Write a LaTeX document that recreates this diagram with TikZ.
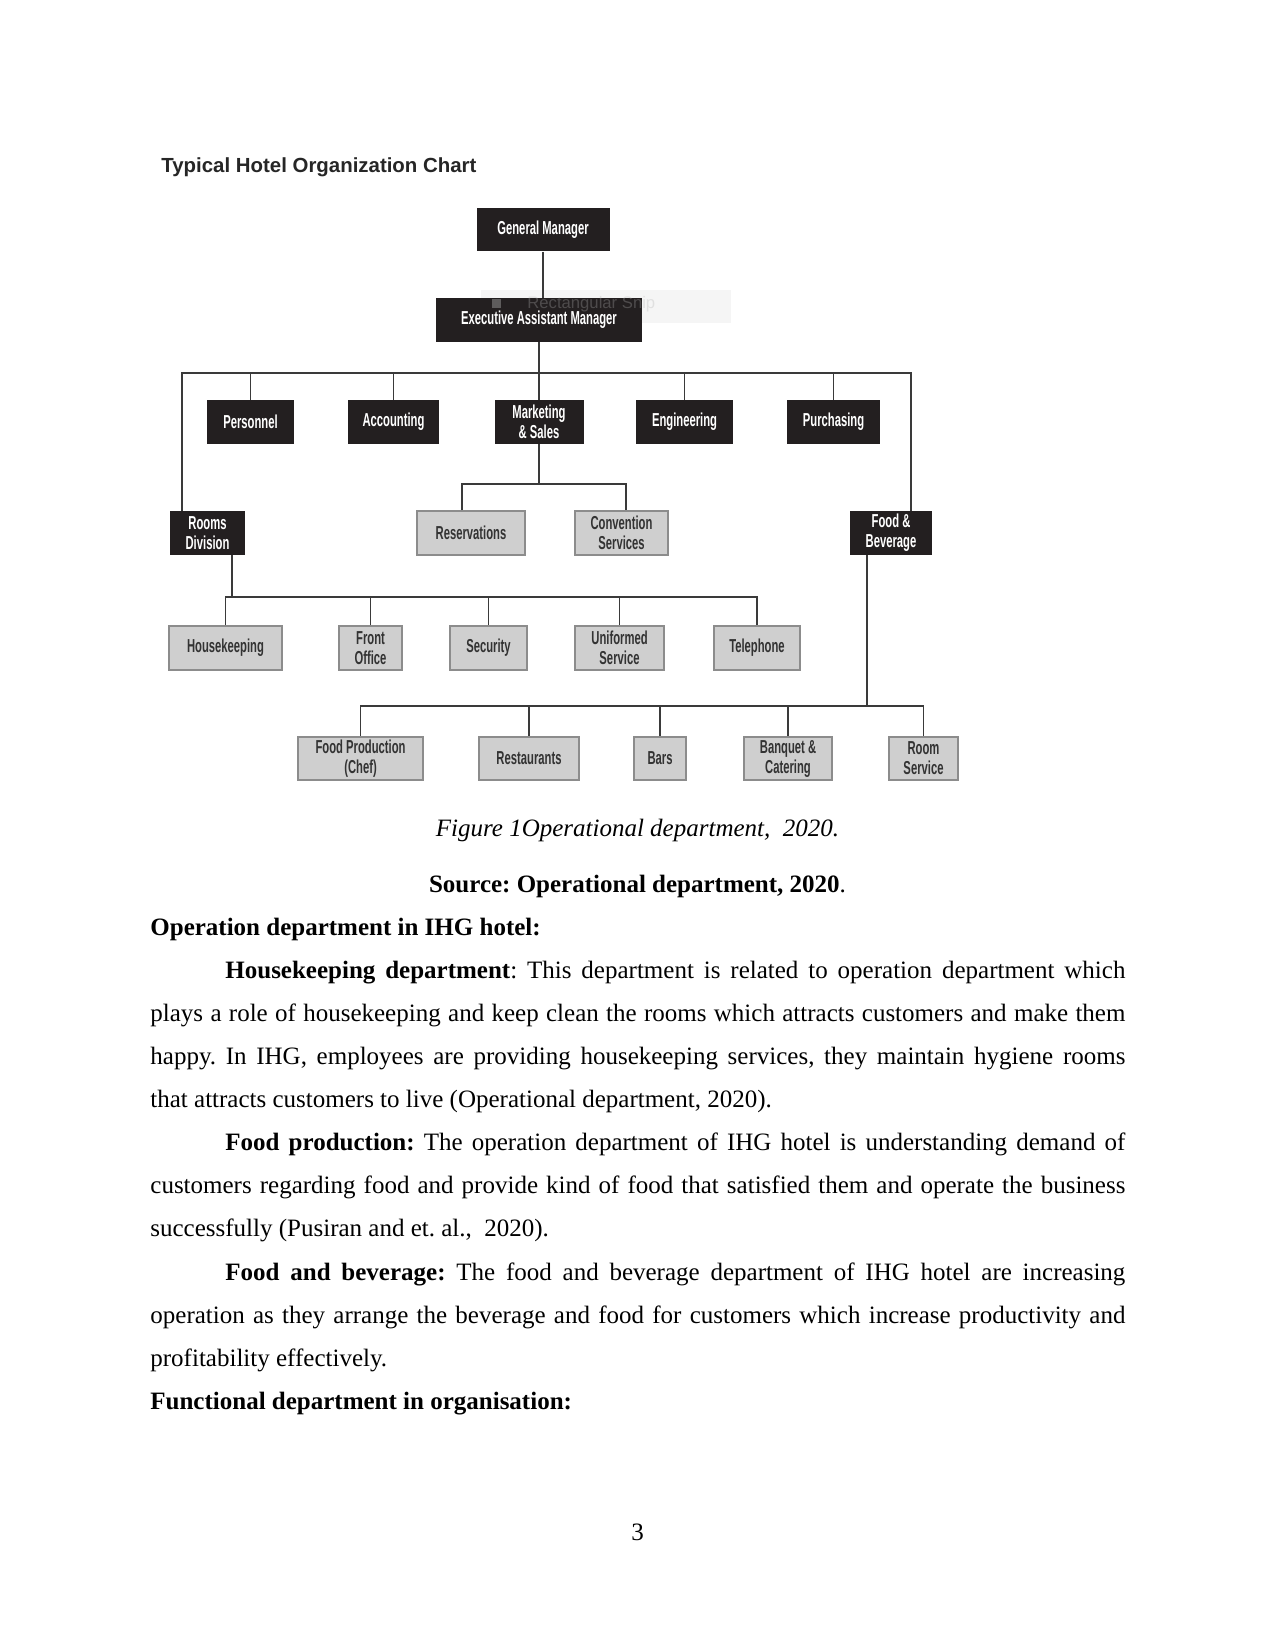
\documentclass[tikz,border=0pt]{standalone}
\usepackage{fontspec}
\setmainfont{Liberation Serif}
\newfontfamily\chartfont[FakeStretch=0.6]{Liberation Sans}
\newfontfamily\headfont{Liberation Sans}
\usetikzlibrary{positioning}
\definecolor{boxblack}{HTML}{231F20}
\definecolor{boxgray}{HTML}{CFCFCF}
\definecolor{boxedge}{HTML}{8C8C8C}
\definecolor{linegray}{HTML}{3A3A3A}
\frenchspacing

\begin{document}
\begin{tikzpicture}[x=0.48pt,y=-0.48pt,
    dept/.style={minimum height=21pt, inner sep=0pt, align=center,
        font=\chartfont\bfseries\fontsize{9}{9.6}\selectfont},
    head/.style={dept, fill=boxblack, text=white},
    unit/.style={dept, fill=boxgray, draw=boxedge, line width=0.9pt, text=black!80},
    wd/.style={minimum width=#1*0.48pt},
    link/.style={draw=linegray, line width=0.75pt},
    txt/.style={inner sep=0pt, font=\fontsize{12}{14}\selectfont}]
\path[fill=white] (0,0) rectangle (1275,1650);
\useasboundingbox (0,0) rectangle (1275,1650);

\node[anchor=base west, inner sep=0pt, text=black!85,
    font=\headfont\bfseries\fontsize{9.8}{12}\selectfont] (title) at (161,173)
    {Typical Hotel Organization Chart};

% screen-snip ghost behind the chart
\fill[black!4] (481,290) rectangle (731,323);

\node[head, wd=133] (gm) at (543,229.5) {General Manager};
\node[head, wd=206] (eam) at (539,320) {Executive Assistant Manager};

\fill[black!40, opacity=0.5] (492,299) rectangle (501,308);
\node[anchor=base west, inner sep=0pt, text=black!30, opacity=0.3,
    font=\headfont\fontsize{8}{10}\selectfont] (snip) at (527,309) {Rectangular Snip};

\node[head, wd=87] (pers) at (250.5,422) {Personnel};
\node[head, wd=91] (acct) at (393.5,422) {Accounting};
\node[head, wd=89] (mkt) at (539,422) {Marketing\\\& Sales};
\node[head, wd=97] (eng) at (684.5,422) {Engineering};
\node[head, wd=93] (purch) at (833.5,422) {Purchasing};

\node[head, wd=75] (rooms) at (207.5,533) {Rooms\\Division};
\node[unit, wd=108] (resv) at (471,533) {Reservations};
\node[unit, wd=93] (conv) at (621.5,533) {Convention\\Services};
\node[head, wd=82] (fnb) at (891,533) {Food \&\\Beverage};

\node[unit, wd=113] (hk) at (225.5,648) {Housekeeping};
\node[unit, wd=63] (fo) at (370.5,648) {Front\\Office};
\node[unit, wd=77] (sec) at (488.5,648) {Security};
\node[unit, wd=89] (unif) at (619.5,648) {Uniformed\\Service};
\node[unit, wd=86] (tel) at (757,648) {Telephone};

\node[unit, wd=125] (fprod) at (360.5,758.5) {Food Production\\(Chef)};
\node[unit, wd=100] (rest) at (529,758.5) {Restaurants};
\node[unit, wd=52] (bars) at (660,758.5) {Bars};
\node[unit, wd=88] (banq) at (788,758.5) {Banquet \&\\Catering};
\node[unit, wd=69] (rsvc) at (923.5,758.5) {Room\\Service};

\coordinate (busL) at (182,373);
\coordinate (busR) at (911,373);
\coordinate (subL) at (462,484);
\coordinate (subR) at (626,484);
\coordinate (rdrop) at (232,597);
\coordinate (fdrop) at (867,706);

\draw[link] (gm.south) -- (gm.south |- eam.north);
\draw[link] (eam.south) -- (mkt.north);
\draw[link] (rooms.north -| busL) -- (busL) -- (busR) -- (fnb.north -| busR);
\foreach \n in {pers,acct,eng,purch}
    \draw[link] (\n.north) -- (\n.north |- busL);
\draw[link] (mkt.south) -- (mkt.south |- subL);
\draw[link] (resv.north -| subL) -- (subL) -- (subR) -- (conv.north -| subR);

\draw[link] (rdrop |- rooms.south) -- (rdrop);
\draw[link] (hk.north) -- (hk.north |- rdrop) -- (tel.north |- rdrop) -- (tel.north);
\foreach \n in {fo,sec,unif}
    \draw[link] (\n.north) -- (\n.north |- rdrop);

\draw[link] (fdrop |- fnb.south) -- (fdrop);
\draw[link] (fprod.north) -- (fprod.north |- fdrop) -- (rsvc.north |- fdrop) -- (rsvc.north);
\foreach \n in {rest,bars,banq}
    \draw[link] (\n.north) -- (\n.north |- fdrop);

\node[txt, anchor=base, font=\itshape\fontsize{12}{14}\selectfont] (caption) at (637.5,836)
    {Figure 1Operational department,\ \ 2020.};
\node[txt, anchor=base] (source) at (637.5,892)
    {\textbf{Source: Operational department, 2020}.};

\node[txt, anchor=base west, text width=468pt, align=justify,
    font=\fontsize{12}{20.7}\selectfont] (body) at (150,935)
{\hyphenpenalty=10000
\textbf{Operation department in IHG hotel:}\par
\hspace*{36pt}\textbf{Housekeeping department}: This department is related to operation department which\linebreak
plays a role of housekeeping and keep clean the rooms which attracts customers and make them\linebreak
happy. In IHG, employees are providing housekeeping services, they maintain hygiene rooms\linebreak
that attracts customers to live (Operational department, 2020).\par
\hspace*{36pt}\textbf{Food production:} The operation department of IHG hotel is understanding demand of\linebreak
customers regarding food and provide kind of food that satisfied them and operate the business\linebreak
successfully (Pusiran and et. al.,\ \ 2020).\par
\hspace*{36pt}\textbf{Food and beverage:} The food and beverage department of IHG hotel are increasing\linebreak
operation as they arrange the beverage and food for customers which increase productivity and\linebreak
profitability effectively.\par
\textbf{Functional department in organisation:}\par};

\node[txt, anchor=base] (pagenum) at (637.5,1540) {3};
\end{tikzpicture}
\end{document}
